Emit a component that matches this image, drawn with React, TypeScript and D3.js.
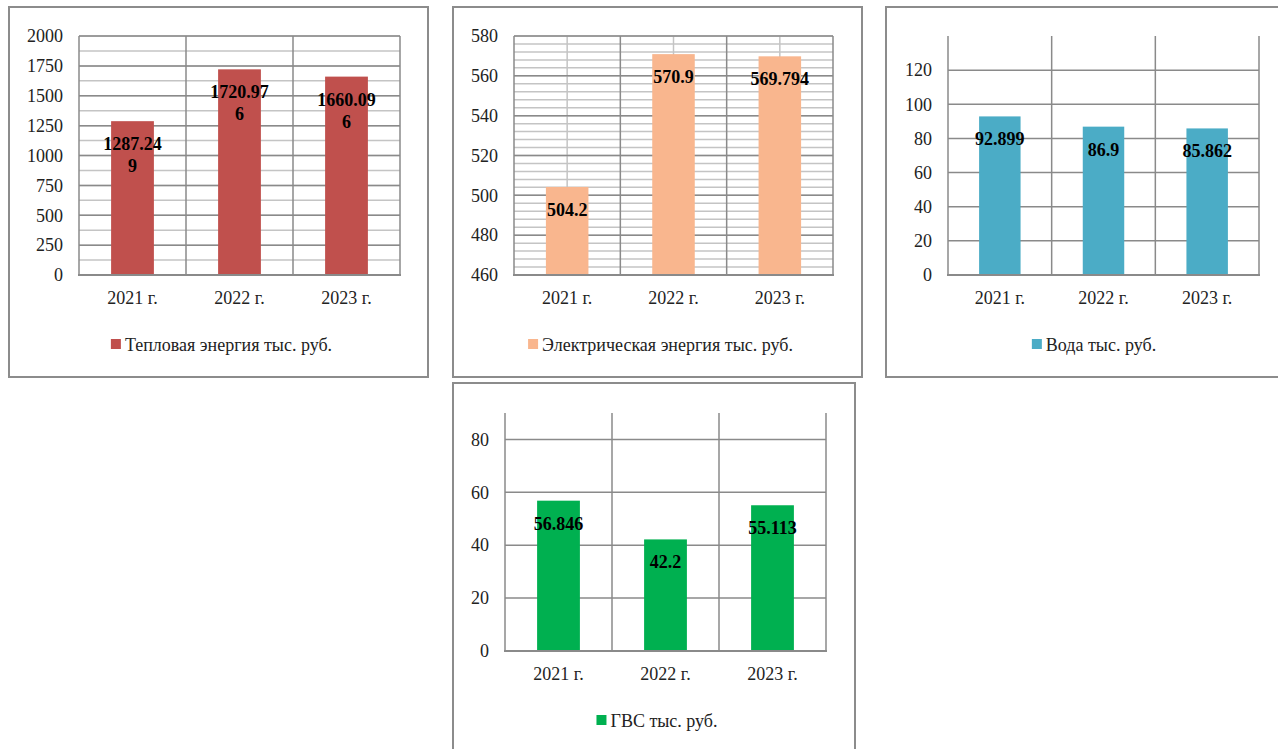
import { useEffect, useRef } from "react";
import * as d3 from "d3";

const years = ["2021 г.", "2022 г.", "2023 г."];
const heat = [1287.249, 1720.976, 1660.096];
const electricity = [504.2, 570.9, 569.794];
const water = [92.899, 86.9, 85.862];
const hotWater = [56.846, 42.2, 55.113];

const heatTicks = [0, 250, 500, 750, 1000, 1250, 1500, 1750, 2000];
const electricityTicks = [460, 480, 500, 520, 540, 560, 580];
const waterTicks = [0, 20, 40, 60, 80, 100, 120];
const hotWaterTicks = [0, 20, 40, 60, 80];

const FONT = "'Liberation Serif', 'Times New Roman', serif";

const charts = [
  {
    name: "Тепловая энергия тыс. руб.",
    values: heat,
    ticks: heatTicks,
    domain: [0, 2000],
    minor: 125,
    vMinor: false,
    wrap: 7,
    color: "#C0504D",
    frame: [9, 7, 428, 377],
    plot: [79, 36, 400, 275],
  },
  {
    name: "Электрическая энергия тыс. руб.",
    values: electricity,
    ticks: electricityTicks,
    domain: [460, 580],
    minor: 4,
    vMinor: true,
    wrap: 0,
    color: "#F9B68E",
    frame: [453, 7, 862, 377],
    plot: [514, 36, 833, 275],
  },
  {
    name: "Вода тыс. руб.",
    values: water,
    ticks: waterTicks,
    domain: [0, 140],
    minor: 0,
    vMinor: false,
    wrap: 0,
    color: "#4BACC6",
    frame: [886, 7, 1296, 377],
    plot: [948, 36, 1259, 275],
  },
  {
    name: "ГВС тыс. руб.",
    values: hotWater,
    ticks: hotWaterTicks,
    domain: [0, 90],
    minor: 0,
    vMinor: false,
    wrap: 0,
    color: "#00B050",
    frame: [453, 383, 855, 760],
    plot: [505, 413, 826, 651],
  },
];

export default function App() {
  const ref = useRef<SVGSVGElement>(null);

  useEffect(() => {
    const svg = d3.select(ref.current);
    svg.selectAll("*").remove();

    charts.forEach((c) => {
      const [fx0, fy0, fx1, fy1] = c.frame;
      const [px0, py0, px1, py1] = c.plot;
      const g = svg.append("g");

      g.append("rect")
        .attr("x", fx0)
        .attr("y", fy0)
        .attr("width", fx1 - fx0)
        .attr("height", fy1 - fy0)
        .attr("fill", "#fff")
        .attr("stroke", "#8c8c8c")
        .attr("stroke-width", 2);

      const x = d3
        .scaleBand()
        .domain(years)
        .range([px0, px1])
        .paddingInner(0.6)
        .paddingOuter(0.3);
      const y = d3.scaleLinear().domain(c.domain).range([py1, py0]);
      const step = x.step();

      // minor horizontal gridlines
      if (c.minor) {
        const minorTicks = d3.range(c.domain[0], c.domain[1] + 0.001, c.minor);
        g.selectAll(".hminor")
          .data(minorTicks)
          .enter()
          .append("line")
          .attr("x1", px0)
          .attr("x2", px1)
          .attr("y1", (d) => y(d))
          .attr("y2", (d) => y(d))
          .attr("stroke", "#c4c4c4")
          .attr("stroke-width", 1.5);
      }
      // minor vertical gridlines at category centres
      if (c.vMinor) {
        g.selectAll(".vminor")
          .data(years)
          .enter()
          .append("line")
          .attr("x1", (d) => x(d)! + x.bandwidth() / 2)
          .attr("x2", (d) => x(d)! + x.bandwidth() / 2)
          .attr("y1", py0)
          .attr("y2", py1)
          .attr("stroke", "#c4c4c4")
          .attr("stroke-width", 1.5);
      }
      // major horizontal gridlines
      const majors = c.minor ? c.ticks : c.ticks.filter((t) => t !== c.domain[0]);
      g.selectAll(".hmajor")
        .data(majors)
        .enter()
        .append("line")
        .attr("x1", px0)
        .attr("x2", px1)
        .attr("y1", (d) => y(d))
        .attr("y2", (d) => y(d))
        .attr("stroke", "#8a8a8a")
        .attr("stroke-width", 1.5);
      // vertical category boundaries
      const bounds = d3.range(0, years.length + 1).map((i) => px0 + i * step);
      g.selectAll(".vmajor")
        .data(bounds)
        .enter()
        .append("line")
        .attr("x1", (d) => d)
        .attr("x2", (d) => d)
        .attr("y1", py0)
        .attr("y2", py1)
        .attr("stroke", "#8a8a8a")
        .attr("stroke-width", 1.5);

      // bars
      g.selectAll(".bar")
        .data(c.values)
        .enter()
        .append("rect")
        .attr("x", (_, i) => x(years[i])!)
        .attr("y", (d) => y(d))
        .attr("width", x.bandwidth())
        .attr("height", (d) => y(c.domain[0]) - y(d))
        .attr("fill", c.color);

      // bottom axis line
      g.append("line")
        .attr("x1", px0 - 1)
        .attr("x2", px1 + 1)
        .attr("y1", py1)
        .attr("y2", py1)
        .attr("stroke", "#8a8a8a")
        .attr("stroke-width", 2);

      // y axis labels
      const ya = g
        .append("g")
        .attr("transform", `translate(${px0},0)`)
        .call(
          d3
            .axisLeft(y)
            .tickValues(c.ticks)
            .tickFormat(d3.format("d"))
            .tickSize(0)
            .tickPadding(16)
        );
      ya.select(".domain").remove();
      ya.attr("font-family", null).attr("font-size", null);
      ya.selectAll("text")
        .style("font-family", FONT)
        .style("font-size", "18px")
        .attr("fill", "#222");

      // x axis labels
      const xa = g
        .append("g")
        .attr("transform", `translate(0,${py1})`)
        .call(d3.axisBottom(x).tickSize(0).tickPadding(16));
      xa.select(".domain").remove();
      xa.attr("font-family", null).attr("font-size", null);
      xa.selectAll("text")
        .style("font-family", FONT)
        .style("font-size", "18px")
        .attr("fill", "#222");

      // data labels
      c.values.forEach((v, i) => {
        const s = String(v);
        const lines =
          c.wrap && s.length > c.wrap ? [s.slice(0, c.wrap), s.slice(c.wrap)] : [s];
        const cx = x(years[i])! + x.bandwidth() / 2;
        const t = g
          .append("text")
          .attr("x", cx)
          .attr("y", y(v) + 29)
          .attr("text-anchor", "middle")
          .style("font-family", FONT)
          .style("font-size", "18px")
          .style("font-weight", "bold")
          .attr("fill", "#000");
        lines.forEach((ln, k) => {
          t.append("tspan")
            .attr("x", cx)
            .attr("dy", k === 0 ? 0 : 22)
            .text(ln);
        });
      });

      // legend
      const lg = g.append("g");
      const ly = py1 + 70;
      lg.append("rect")
        .attr("x", 0)
        .attr("y", ly - 6)
        .attr("width", 10)
        .attr("height", 10)
        .attr("fill", c.color);
      const lt = lg
        .append("text")
        .attr("x", 14)
        .attr("y", ly + 6)
        .style("font-family", FONT)
        .style("font-size", "18px")
        .attr("fill", "#222")
        .text(c.name);
      const w = 14 + (lt.node() as SVGTextElement).getComputedTextLength();
      const lcx = (fx0 + fx1) / 2 + 3;
      lg.attr("transform", `translate(${lcx - w / 2},0)`);
    });
  }, []);

  return (
    <svg
      ref={ref}
      width={1278}
      height={749}
      style={{ position: "absolute", left: 0, top: 0, background: "#fff" }}
    />
  );
}
